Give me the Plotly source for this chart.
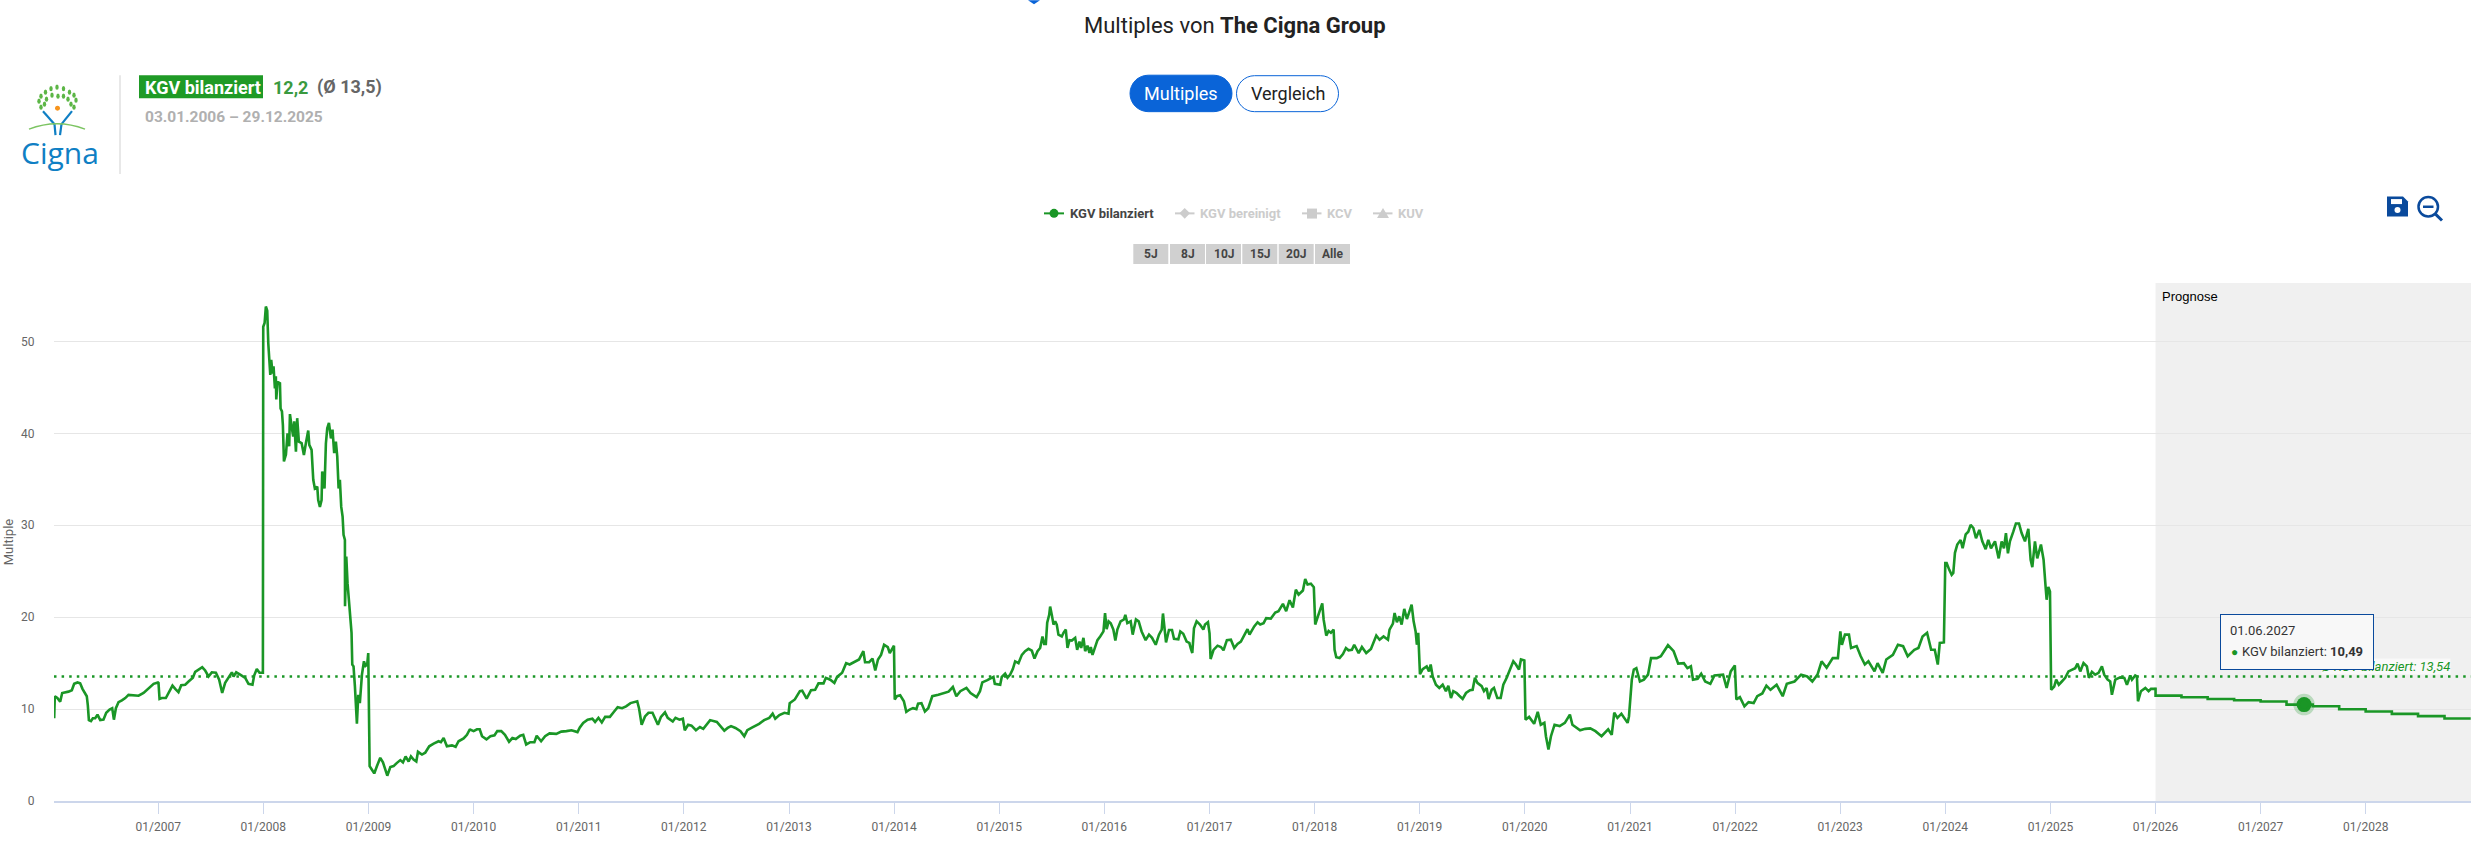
import pandas as pd
import plotly.graph_objects as go

W, H = 2478, 842
PLOT_L, PLOT_R, PLOT_T, PLOT_B = 54, 2471, 283, 801.5
GREEN = "#1a9626"
BLUE = "#0a64d8"
NAVY = "#0a4a9c"

# fraction of the year / KGV
t_2006 = [.01,.016,.04,.067,.086,.114,.146,.178,.2,.232,.257,.279,.305,.32,.33,.34,.36,.378,.4,.422,.448,.479,.505,.537,.562,.578,.597,.622,.654,.686,.717,.765,.813,.86,.908,.956,.997]
v_2006 = [9.0,11.4,11.2,10.8,11.75,11.8,11.9,12.05,12.75,12.9,12.8,12.2,11.75,11.4,10.4,8.8,8.7,9.0,9.0,9.4,8.8,8.85,9.6,9.95,10.1,8.85,10.1,10.75,10.95,11.2,11.55,11.5,11.45,11.75,12.2,12.75,12.9]
t_2007 = [.003,.013,.035,.073,.108,.136,.162,.193,.219,.257,.289,.33,.352,.384,.419,.447,.479,.51,.549,.58,.609,.637,.669,.701,.717,.742,.78,.828,.859,.897,.913,.938,.964,.996]
v_2007 = [12.85,11.1,11.2,11.2,11.95,12.55,12.2,11.85,12.6,12.65,13.0,13.4,14.05,14.3,14.55,14.2,13.55,14.0,13.95,13.2,11.75,12.85,13.5,14.0,13.55,14.0,13.75,13.4,12.75,12.65,13.65,14.35,13.95,13.95]
t_2008 = [.0,.013,.025,.038,.048,.057,.067,.076,.089,.098,.111,.12,.124,.136,.159,.165,.178,.187,.197,.216,.231,.247,.254,.27,.285,.295,.311,.323,.339,.365,.387,.406,.428,.438,.46,.476,.491,.514,.523,.539,.555,.561,.583,.596,.609,.625,.644,.659,.675,.691,.704,.717,.729,.742,.755,.764,.777,.778,.79,.802,.815,.831,.84,.847,.859,.872,.891,.904,.919,.939,.958,.973,.989,.999]
v_2008 = [51.6,52.0,53.8,53.35,49.8,48.15,46.35,48.0,46.5,47.3,44.9,46.2,43.7,45.6,45.45,42.7,42.4,40.9,36.95,37.7,40.0,38.6,42.1,40.75,39.65,41.3,38.0,41.65,39.1,38.95,37.65,38.95,40.3,38.75,38.2,34.95,34.0,34.2,32.75,32.0,32.75,35.85,34.0,38.9,40.55,41.15,39.45,40.4,37.85,39.1,37.5,34.0,34.95,32.0,30.95,28.95,28.4,21.2,26.6,23.7,21.5,19.7,18.3,14.85,14.65,12.5,8.4,11.55,10.65,13.75,15.2,14.7,14.85,16.1]
t_2009 = [.01,.032,.054,.08,.111,.137,.159,.178,.207,.238,.27,.302,.327,.352,.381,.403,.428,.454,.47,.508,.539,.577,.619,.666,.688,.714,.745,.793,.828,.856,.904,.936,.961,.967]
v_2009 = [3.8,3.4,3.0,3.8,4.7,4.2,3.4,2.75,3.7,3.8,4.15,4.45,4.2,4.85,4.3,4.85,4.5,4.3,5.35,5.05,5.25,5.95,6.25,6.5,6.4,6.85,5.95,6.05,5.9,6.5,6.8,7.2,7.75,7.77]
t_2010 = [.0,.032,.058,.08,.122,.16,.199,.225,.263,.298,.337,.369,.401,.443,.472,.5,.539,.578,.6,.642,.68,.722,.786,.834,.883,.931,.988]
v_2010 = [7.6,7.8,7.8,7.05,6.7,7.05,7.15,7.6,7.6,7.2,6.45,6.85,6.75,7.1,7.2,6.15,6.4,6.4,7.1,6.5,7.05,7.35,7.3,7.55,7.6,7.7,7.5]
t_2011 = [.011,.043,.085,.13,.156,.188,.22,.252,.297,.332,.371,.413,.451,.493,.557,.574,.599,.631,.664,.702,.728,.754,.783,.821,.847,.895,.921,.959,.991]
v_2011 = [8.0,8.5,8.85,8.95,8.6,9.05,8.55,9.15,9.15,9.65,10.2,10.1,10.3,10.65,10.85,10.1,8.3,9.2,9.6,9.6,8.85,8.3,9.15,9.65,9.05,8.65,9.05,8.85,8.95]
t_2012 = [.01,.042,.074,.116,.154,.186,.219,.251,.315,.363,.386,.418,.45,.492,.54,.576,.605,.653,.717,.765,.814,.846,.871,.91,.958,.997]
v_2012 = [7.7,8.3,8.2,7.7,8.05,7.85,8.3,8.8,8.6,8.0,7.65,7.95,8.15,7.95,7.6,7.05,7.7,8.0,8.4,8.8,9.05,9.5,8.95,9.35,9.6,9.5]
t_2013 = [.006,.055,.103,.125,.167,.209,.248,.28,.328,.35,.392,.431,.457,.505,.543,.576,.633,.666,.707,.723,.762,.794,.82,.846,.875,.904,.939,.958,.998]
v_2013 = [10.65,11.05,11.95,12.0,11.15,12.05,12.1,12.8,12.8,13.4,13.2,12.85,13.5,13.95,15.0,14.85,15.2,15.4,16.3,15.1,15.1,15.5,14.2,15.4,15.9,17.0,16.75,16.1,16.9]
t_2014 = [.006,.026,.058,.093,.116,.148,.18,.212,.228,.26,.293,.325,.363,.421,.469,.518,.559,.592,.63,.688,.727,.785,.817,.839,.887,.945,.958,.998]
v_2014 = [11.05,11.4,11.5,10.85,9.7,9.95,10.1,10.0,10.6,10.65,9.75,10.1,11.4,11.55,11.7,11.9,12.4,11.4,11.95,12.3,11.75,11.3,11.95,12.9,13.15,13.5,12.75,12.65]
t_2015 = [.01,.025,.057,.079,.105,.13,.152,.184,.216,.247,.279,.311,.336,.365,.39,.412,.428,.444,.457,.476,.485,.501,.517,.533,.548,.564,.596,.612,.634,.65,.669,.691,.723,.742,.764,.78,.802,.818,.84,.859,.872,.888,.913,.935,.961,.992]
v_2015 = [12.65,13.5,13.85,13.4,13.75,14.35,15.2,15.0,15.9,16.3,16.55,16.35,15.5,16.3,16.65,17.9,17.1,17.1,19.4,20.25,21.15,20.25,19.2,19.55,19.2,18.1,17.9,18.3,18.65,16.65,17.5,17.45,17.75,16.45,17.35,16.65,17.75,16.3,16.9,16.1,16.75,15.9,16.9,17.5,17.9,18.45]
t_2016 = [.008,.023,.042,.062,.087,.106,.125,.156,.188,.201,.22,.252,.271,.302,.328,.356,.394,.426,.455,.49,.521,.547,.559,.572,.588,.616,.645,.664,.705,.724,.752,.784,.81,.822,.838,.854,.879,.911,.943,.959,.987]
v_2016 = [20.45,18.7,19.55,19.35,18.65,17.45,18.65,19.55,19.75,20.25,19.35,19.55,18.1,19.75,19.55,18.45,17.5,18.1,17.75,17.0,18.1,18.65,20.4,18.65,17.25,18.6,18.6,17.65,17.6,18.45,18.2,17.35,17.2,16.65,16.1,18.8,19.55,19.2,18.65,19.2,19.45]
t_2017 = [.0,.01,.038,.076,.108,.133,.165,.203,.235,.266,.298,.323,.361,.38,.425,.457,.482,.514,.539,.583,.625,.656,.698,.729,.761,.793,.821,.847,.888,.91,.932,.964,.992]
v_2017 = [18.25,15.45,16.45,16.9,16.75,16.4,17.5,17.55,16.65,17.1,17.35,17.9,18.7,18.1,19.0,19.45,19.2,19.35,19.9,19.85,20.5,20.65,21.45,20.65,21.85,21.05,23.0,22.45,22.9,24.15,23.55,23.65,23.25]
t_2018 = [.006,.029,.048,.073,.086,.111,.133,.155,.181,.19,.206,.238,.27,.298,.323,.355,.377,.419,.45,.491,.536,.587,.618,.656,.698,.713,.745,.761,.783,.805,.828,.853,.878,.897,.923,.942,.961,.973,.986]
v_2018 = [19.2,19.9,20.65,21.5,19.75,18.0,18.5,18.3,18.65,16.45,15.65,15.55,16.0,16.65,16.4,16.45,17.0,16.1,16.75,16.1,16.55,18.0,17.55,17.9,17.55,18.65,19.3,20.45,19.45,20.1,19.2,20.9,19.8,20.45,21.35,19.55,18.45,17.0,18.3]
t_2019 = [.003,.029,.067,.089,.105,.124,.155,.187,.219,.25,.273,.298,.32,.352,.377,.409,.441,.479,.504,.526,.549,.59,.612,.637,.656,.685,.707,.739,.771,.796,.828,.859,.891,.916,.945,.964,.996]
v_2019 = [13.8,14.35,14.65,14.1,14.85,13.55,12.65,12.3,12.65,11.95,12.55,11.2,11.95,11.75,11.45,11.1,11.75,12.05,12.1,13.4,12.85,12.5,11.95,12.3,11.1,12.1,12.3,11.2,11.2,12.65,13.4,14.3,15.2,14.85,14.3,15.4,15.3]
t_2020 = [.008,.042,.09,.124,.153,.187,.202,.226,.25,.284,.333,.382,.43,.454,.527,.576,.624,.673,.731,.794,.828,.852,.882,.92,.979,.992]
v_2020 = [8.85,9.15,8.4,9.7,8.3,8.5,7.05,5.6,7.05,8.3,8.15,8.5,9.4,8.3,7.7,7.85,7.9,7.6,7.05,7.8,7.2,9.6,9.05,9.5,8.5,9.2]
t_2021 = [.017,.036,.06,.094,.132,.171,.2,.254,.293,.327,.361,.415,.458,.512,.546,.579,.599,.643,.677,.715,.764,.803,.885,.919,.958,.997]
v_2021 = [13.2,14.3,14.45,13.0,13.2,13.75,15.55,15.55,15.75,16.3,16.95,16.3,14.95,15.0,14.45,14.65,13.2,13.3,13.85,13.0,12.75,13.65,13.75,12.3,14.1,14.75]
t_2022 = [.012,.046,.089,.128,.177,.211,.259,.298,.337,.395,.453,.492,.565,.628,.686,.735,.784,.823,.871,.929,.978]
v_2022 = [11.05,11.3,10.3,10.75,10.65,11.4,11.7,12.55,12.1,12.65,11.4,12.75,13.0,13.75,13.55,13.0,13.75,15.2,14.5,15.55,15.55]
t_2023 = [.002,.017,.046,.084,.104,.157,.196,.235,.269,.327,.356,.405,.439,.502,.55,.599,.643,.706,.745,.784,.827,.866,.9,.929,.948,.987]
v_2023 = [18.45,17.0,18.1,18.1,16.65,16.85,15.75,14.85,15.2,14.1,15.0,13.95,15.4,15.9,17.0,16.85,15.75,16.45,16.65,17.9,18.3,16.45,16.45,14.85,17.2,17.25]
t_2024 = [.001,.014,.039,.062,.077,.093,.115,.147,.166,.195,.22,.242,.268,.293,.325,.353,.385,.41,.436,.474,.509,.537,.559,.578,.597,.616,.648,.673,.702,.727,.759,.791,.813,.829,.854,.876,.911,.936,.955,.965,.981,.997]
v_2024 = [25.9,25.9,25.15,24.6,24.8,27.0,27.9,28.4,27.5,29.0,29.3,30.05,29.7,28.6,29.5,28.25,27.4,28.4,27.5,28.25,26.4,28.25,27.5,29.15,26.95,28.25,29.3,30.2,30.2,29.15,28.25,29.6,26.25,25.45,28.25,26.4,27.9,26.25,23.35,21.9,23.3,22.8]
t_2025 = [.006,.035,.054,.079,.108,.14,.171,.203,.235,.257,.283,.314,.346,.365,.394,.425,.457,.489,.511,.543,.568,.584,.616,.663,.702,.727,.759,.775,.806,.822,.832,.86,.902,.933,.956,.997]
v_2025 = [12.1,12.45,13.2,12.65,13.0,13.4,14.1,14.3,14.45,14.95,14.1,15.0,14.65,13.4,14.05,13.75,13.95,14.65,13.75,13.2,13.0,11.55,13.2,13.45,13.4,12.65,13.65,13.2,13.65,13.55,10.85,11.95,12.3,11.95,12.2,12.2]

# quarterly forecast, drawn as steps
forecast_dates = ["2025-12-29","2026-01-01","2026-04-01","2026-07-01","2026-10-01","2027-01-01","2027-04-01","2027-07-01","2027-10-01","2028-01-01","2028-04-01","2028-07-01","2028-10-01","2028-12-31"]
forecast_vals = [12.2,11.47,11.29,11.1,10.96,10.82,10.49,10.31,9.99,9.73,9.48,9.23,8.97,8.97]

average = 13.54
hover_date = "2027-06-01"
hover_val = 10.49

tick_years = list(range(2007, 2029))
y_ticks = [0, 10, 20, 30, 40, 50]
legend_names = ["KGV bereinigt", "KCV", "KUV"]
range_labels = ["5J", "8J", "10J", "15J", "20J", "Alle"]


def px(x):
    return (x - PLOT_L) / (PLOT_R - PLOT_L)


def py(y):
    return (PLOT_B - y) / (PLOT_B - PLOT_T)


def to_dates(year, fracs):
    start = pd.Timestamp(year=year, month=1, day=1)
    return [start + pd.Timedelta(days=f * 365.25) for f in fracs]


def note(x, y, text, size=12, color="#666666", anchor="left", family="Roboto", **kw):
    fig.add_annotation(xref="paper", yref="paper", x=px(x), y=py(y), text=text, showarrow=False,
                       xanchor=anchor, yanchor="middle", borderpad=0,
                       font=dict(size=size, color=color, family=family), **kw)


def box(x0, y0, x1, y1, fill, line=None, width=0, kind="rect"):
    fig.add_shape(type=kind, xref="paper", yref="paper", x0=px(x0), x1=px(x1), y0=py(y0), y1=py(y1),
                  fillcolor=fill, line=dict(color=line or fill, width=width), layer="above")


def seg(x0, y0, x1, y1, color, width):
    fig.add_shape(type="line", xref="paper", yref="paper", x0=px(x0), x1=px(x1), y0=py(y0), y1=py(y1),
                  line=dict(color=color, width=width), layer="above")


def path(points, fill="rgba(0,0,0,0)", line="rgba(0,0,0,0)", width=1):
    # points: list of (command, x, y, ...) in page pixels
    out = []
    for p in points:
        nums = []
        for i in range(1, len(p), 2):
            nums.append(f"{px(p[i]):.6f} {py(p[i + 1]):.6f}")
        out.append(p[0] + " " + " ".join(nums))
    fig.add_shape(type="path", xref="paper", yref="paper", path=" ".join(out) + (" Z" if fill != "rgba(0,0,0,0)" else ""),
                  fillcolor=fill, line=dict(color=line, width=width), layer="above")


def pill(x0, y0, x1, y1, fill, line, width):
    r = (y1 - y0) / 2
    k = r * 0.55
    path([("M", x0 + r, y0), ("L", x1 - r, y0),
          ("C", x1 - r + k, y0, x1, y0 + r - k, x1, y0 + r),
          ("C", x1, y0 + r + k, x1 - r + k, y1, x1 - r, y1),
          ("L", x0 + r, y1),
          ("C", x0 + r - k, y1, x0, y0 + r + k, x0, y0 + r),
          ("C", x0, y0 + r - k, x0 + r - k, y0, x0 + r, y0)], fill=fill, line=line, width=width)


hist = [(2006, t_2006, v_2006), (2007, t_2007, v_2007), (2008, t_2008, v_2008), (2009, t_2009, v_2009),
        (2010, t_2010, v_2010), (2011, t_2011, v_2011), (2012, t_2012, v_2012), (2013, t_2013, v_2013),
        (2014, t_2014, v_2014), (2015, t_2015, v_2015), (2016, t_2016, v_2016), (2017, t_2017, v_2017),
        (2018, t_2018, v_2018), (2019, t_2019, v_2019), (2020, t_2020, v_2020), (2021, t_2021, v_2021),
        (2022, t_2022, v_2022), (2023, t_2023, v_2023), (2024, t_2024, v_2024), (2025, t_2025, v_2025)]
hist_x, hist_y = [], []
for year, ts, vs in hist:
    for d, v in zip(to_dates(year, ts), vs, strict=True):
        hist_x.append(d)
        hist_y.append(v)

fig = go.Figure()

x_range = ["2006-01-04", "2029-01-01"]
fig.add_trace(go.Scatter(x=x_range, y=[average, average], mode="lines", showlegend=False, hoverinfo="skip",
                         line=dict(color=GREEN, width=2.5, dash="2.5px,5.1px")))
fig.add_trace(go.Scatter(x=hist_x, y=hist_y, mode="lines", name="KGV bilanziert", showlegend=False,
                         line=dict(color=GREEN, width=2.6)))
fig.add_trace(go.Scatter(x=forecast_dates, y=forecast_vals, mode="lines", showlegend=False,
                         line=dict(color=GREEN, width=2.6, shape="hv")))
fig.add_trace(go.Scatter(x=[hover_date], y=[hover_val], mode="markers", showlegend=False,
                         marker=dict(color=GREEN, size=15, line=dict(color="rgba(26,150,38,0.25)", width=6.5))))

fig.add_shape(type="rect", xref="x", yref="paper", x0="2026-01-01", x1=x_range[1], y0=0, y1=1,
              fillcolor="#f0f0f0", line=dict(width=0), layer="below")

fig.update_layout(
    width=W, height=H, autosize=False,
    margin=dict(l=PLOT_L, r=W - PLOT_R, t=PLOT_T, b=H - PLOT_B, pad=0),
    paper_bgcolor="white", plot_bgcolor="rgba(0,0,0,0)",
    font=dict(family="Roboto", size=12, color="#666666"),
    showlegend=False,
    xaxis=dict(type="date", range=x_range, tickmode="array",
               tickvals=[f"{y}-01-01" for y in tick_years], ticktext=[f"01/{y}" for y in tick_years],
               showgrid=False, ticks="outside", ticklen=11, tickwidth=1.2, tickcolor="#ccd6eb",
               showline=True, linecolor="#ccd6eb", linewidth=1.5, zeroline=False, ticklabelstandoff=3,
               tickfont=dict(size=12, color="#666666")),
    yaxis=dict(range=[0, 56.36], tickmode="array", tickvals=y_ticks, ticktext=[str(v) for v in y_ticks],
               showgrid=True, gridcolor="#e6e6e6", gridwidth=1.3, zeroline=False,
               ticks="outside", ticklen=16, tickcolor="rgba(0,0,0,0)", showline=False,
               tickfont=dict(size=12, color="#666666")),
)

# header
note(1234.5, 25, "Multiples von <b>The Cigna Group</b>", size=22, color="#222222", anchor="center")
path([("M", 1028, 0), ("L", 1034, 4), ("L", 1040, 0)], fill=BLUE)
pill(1130, 75, 1232, 111.5, BLUE, BLUE, 1)
note(1181, 93, "Multiples", size=18, color="white", anchor="center")
pill(1236.5, 75.5, 1338.5, 111.5, "white", BLUE, 1)
note(1287.5, 93, "Vergleich", size=18, color="#222222", anchor="center")

# company block
box(139, 75, 263, 98, "#1f9a26")
note(144, 87, "<b>KGV bilanziert</b>", size=18, color="white")
note(272, 87, "<b>12,2</b>", size=18, color="#3a9a3f")
note(316, 87, "<b>(Ø 13,5)</b>", size=18, color="#666666")
note(144, 117, "<b>03.01.2006 – 29.12.2025</b>", size=15.5, color="#b0b0b0")
seg(120, 75, 120, 174, "#e0e0e0", 1.5)

# logo
leaves = [(57, 87), (51, 88.5), (63.5, 88.5), (45.5, 92), (69.5, 92), (52, 95), (58, 96), (63.5, 96), (41, 96), (74, 95),
          (46.5, 99), (68, 99), (39, 101), (76, 100), (44.5, 104), (71, 104), (41, 107), (74, 107)]
for lx, ly in leaves:
    box(lx - 1.7, ly - 2.6, lx + 1.7, ly + 2.6, "#5cb646", kind="circle")
box(55, 105.5, 60, 110.5, "#f7941d", kind="circle")
seg(43, 111, 54.5, 124, "#0f7fc4", 2.2)
seg(72, 111, 61.5, 124, "#0f7fc4", 2.2)
seg(54.5, 124, 55.5, 135, "#0f7fc4", 2.2)
seg(61.5, 124, 60, 135, "#0f7fc4", 2.2)
path([("M", 29, 129), ("Q", 57, 118, 85, 129)], line="#7cc462", width=1.5)
note(60, 152, "Cigna", size=30, color="#0f7fc4", anchor="center", family="Open Sans")

# legend
seg(1044, 213.3, 1064, 213.3, GREEN, 2)
box(1049.5, 208.8, 1058.5, 217.8, GREEN, kind="circle")
note(1068.5, 213.3, "<b>KGV bilanziert</b>", size=13, color="#444444")
seg(1175, 213.3, 1194.5, 213.3, "#cccccc", 2)
path([("M", 1184.7, 208), ("L", 1190, 213.3), ("L", 1184.7, 218.6), ("L", 1179.4, 213.3)], fill="#cccccc")
note(1199, 213.3, f"<b>{legend_names[0]}</b>", size=13, color="#cccccc")
seg(1302, 213.3, 1321.5, 213.3, "#cccccc", 2)
box(1307, 208.5, 1317, 218.5, "#cccccc")
note(1326, 213.3, f"<b>{legend_names[1]}</b>", size=13, color="#cccccc")
seg(1373, 213.3, 1392.5, 213.3, "#cccccc", 2)
path([("M", 1383, 208), ("L", 1389, 218), ("L", 1377, 218)], fill="#cccccc")
note(1397, 213.3, f"<b>{legend_names[2]}</b>", size=13, color="#cccccc")

# range buttons
btn_left = [1133.3, 1170, 1206, 1242.3, 1278.7, 1315]
for left, label in zip(btn_left, range_labels):
    box(left, 244, left + 35, 264, "#d0d0d0")
    note(left + 17.5, 254, f"<b>{label}</b>", size=12, color="#444444", anchor="center")

# save and zoom icons
path([("M", 2387, 196.5), ("L", 2403, 196.5), ("L", 2408, 201.5), ("L", 2408, 216.5), ("L", 2387, 216.5)], fill=NAVY)
box(2391, 199, 2402, 204, "white")
box(2394.5, 207, 2400.5, 213, "white", kind="circle")
box(2418.5, 197, 2438, 216.5, "rgba(0,0,0,0)", line=NAVY, width=2.5, kind="circle")
seg(2423, 206.7, 2433.5, 206.7, NAVY, 2.5)
seg(2435, 213.5, 2442, 220.5, NAVY, 3)

note(PLOT_L - 45.5, 542, "Multiple", size=13, color="#666666", anchor="center", textangle=-90)
note(2161, 296.5, "Prognose", size=13, color="#000000", family="Liberation Sans")

# average label, partly behind the tooltip
note(2451, 667, "<i>Ø KGV bilanziert: 13,54</i>", size=13, color=GREEN, anchor="right", bgcolor="rgba(255,255,255,0.6)")

# tooltip
fig.add_annotation(xref="paper", yref="paper", x=px(2219.5), y=py(614), xanchor="left", yanchor="top",
                   width=152, height=54, text=" ", showarrow=False, bgcolor="#f8f8f8",
                   bordercolor=NAVY, borderwidth=1, borderpad=0)
note(2229, 631, "01.06.2027", size=13, color="#333333")
note(2229.5, 652, "●", size=12, color=GREEN)
note(2240.5, 652, "KGV bilanziert: <b>10,49</b>", size=13, color="#333333")

fig.write_html("out.html", config=dict(displayModeBar=False),
               post_script="document.body.style.margin='0';document.body.style.overflow='hidden';")
